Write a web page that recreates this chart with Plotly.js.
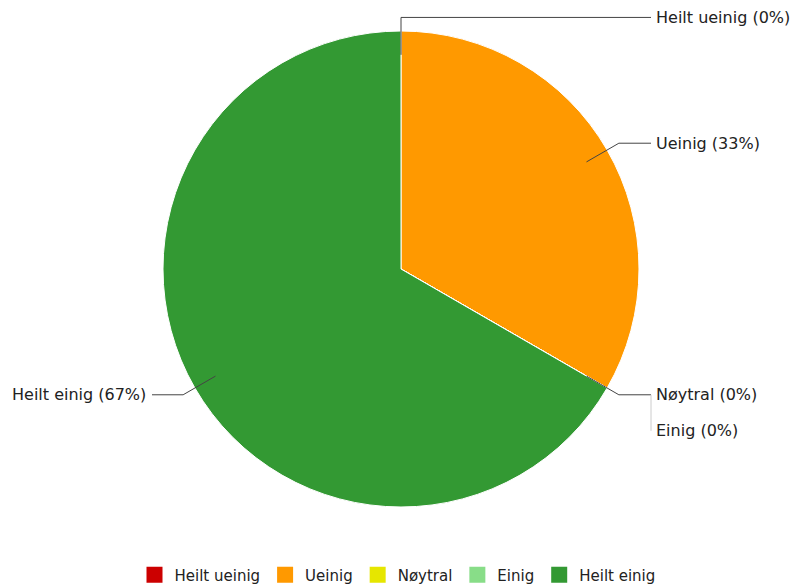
<!DOCTYPE html>
<html>
<head>
<meta charset="utf-8">
<script src="https://cdn.plot.ly/plotly-3.0.1.min.js"></script>
<style>html,body{margin:0;padding:0;background:#fff;}#chart{width:795px;height:586px;}</style>
</head>
<body>
<div id="chart"></div>
<script>
const labels = ['Heilt ueinig', 'Ueinig', 'Nøytral', 'Einig', 'Heilt einig'];
const values = [0, 1, 0, 0, 2];
const colors = ['#CC0000', '#FF9900', '#E6E600', '#88DD88', '#339933'];

const W = 795, H = 586;
const FONT = 'DejaVu Sans, Verdana, sans-serif';
// pie domain (pixels)
const dom = {x0: 163, x1: 639, y0: 31, y1: 507};
const cx = (dom.x0 + dom.x1) / 2, cy = (dom.y0 + dom.y1) / 2;
const R = Math.min(dom.x1 - dom.x0, dom.y1 - dom.y0) / 2;

const total = values.reduce((a, b) => a + b, 0);
const px = x => x / W, py = y => 1 - y / H;

const shapes = [], annotations = [];
let cum = 0;
const pts = [];
values.forEach((v, i) => {
  const mid = (cum + v / 2) / total * 2 * Math.PI;
  cum += v;
  const sx = cx + 0.9 * R * Math.sin(mid), sy = cy - 0.9 * R * Math.cos(mid);
  const ex = cx + 1.057 * R * Math.sin(mid), ey = cy - 1.057 * R * Math.cos(mid);
  const right = Math.sin(mid) >= -1e-9;
  pts.push({i, sx, sy, ex, ey, right, ty: ey});
});
// simple collision avoidance per side
[true, false].forEach(side => {
  const list = pts.filter(p => p.right === side).sort((a, b) => a.ty - b.ty || a.i - b.i);
  for (let k = 1; k < list.length; k++) {
    if (list[k].ty - list[k - 1].ty < 36) list[k].ty = list[k - 1].ty + 36;
  }
});
pts.forEach(p => {
  const pct = Math.round(values[p.i] / total * 100);
  const endX = p.right ? 651 : 152;
  const moved = Math.abs(p.ty - p.ey) > 0.5;
  let path;
  if (!moved) {
    path = `M${px(p.sx)},${py(p.sy)} L${px(p.ex)},${py(p.ey)} L${px(endX)},${py(p.ey)}`;
  } else {
    path = `M${px(endX)},${py(p.ey)} L${px(endX)},${py(p.ty)}`;
  }
  shapes.push({type: 'path', xref: 'paper', yref: 'paper', path,
    line: {color: moved ? '#cccccc' : '#444444', width: 1}});
  annotations.push({xref: 'paper', yref: 'paper', showarrow: false,
    x: px(p.right ? endX + 3 : endX - 4), y: py(p.ty),
    xanchor: p.right ? 'left' : 'right', yanchor: 'middle',
    text: `${labels[p.i]} (${pct}%)`,
    font: {family: FONT, size: 16, color: '#222222'}});
});

const data = [{
  type: 'pie',
  labels: labels,
  values: values,
  sort: false,
  direction: 'clockwise',
  rotation: 0,
  textinfo: 'none',
  hoverinfo: 'label+percent',
  showlegend: false,
  marker: {colors: colors, line: {color: '#ffffff', width: 1}},
  domain: {x: [px(dom.x0), px(dom.x1)], y: [py(dom.y1), py(dom.y0)]}
}];
// legend entries (square swatches)
labels.forEach((lab, i) => {
  data.push({type: 'scatter', mode: 'markers', name: lab, x: [null], y: [null],
    marker: {symbol: 'square', size: 18, color: colors[i], line: {width: 0}},
    showlegend: true, hoverinfo: 'skip'});
});

const layout = {
  width: W, height: H,
  margin: {l: 0, r: 0, t: 0, b: 0, autoexpand: false},
  paper_bgcolor: '#ffffff',
  plot_bgcolor: 'rgba(0,0,0,0)',
  xaxis: {visible: false, fixedrange: true},
  yaxis: {visible: false, fixedrange: true},
  showlegend: true,
  legend: {orientation: 'h', x: 0.5, xanchor: 'center', yref: 'container', y: 1 - 575 / H, yanchor: 'middle',
    font: {family: FONT, size: 15, color: '#222222'}, traceorder: 'normal', itemwidth: 30},
  shapes: shapes,
  annotations: annotations
};
Plotly.newPlot('chart', data, layout, {displayModeBar: false, staticPlot: true});
</script>
</body>
</html>
